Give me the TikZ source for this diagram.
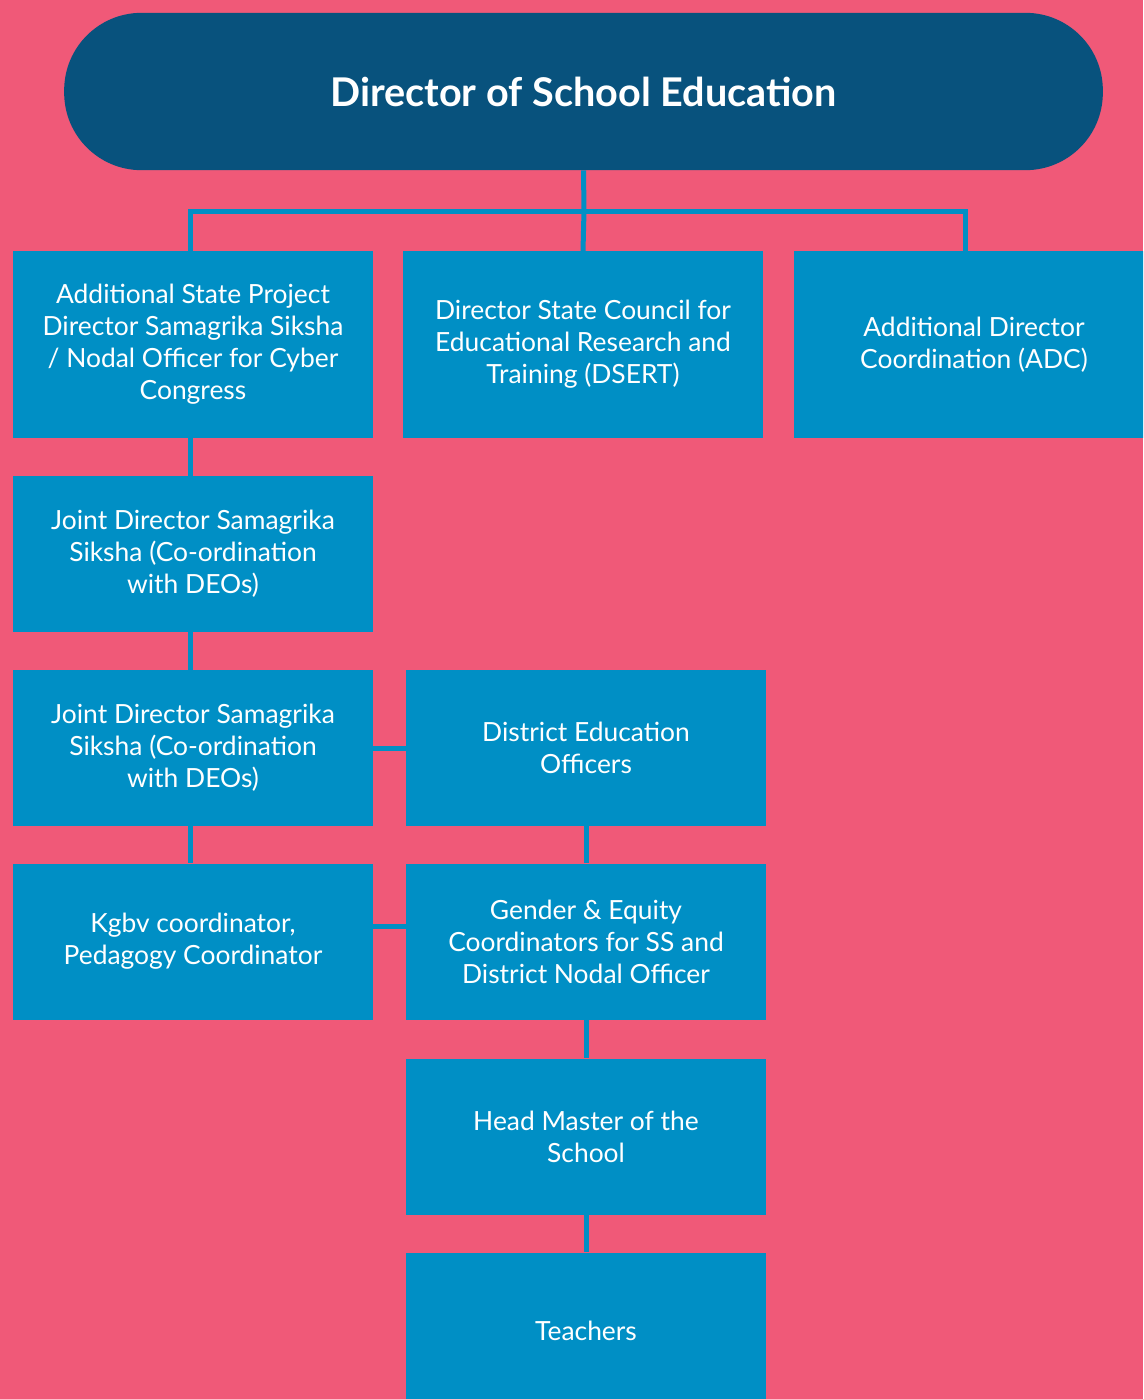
\documentclass[tikz,border=0pt]{standalone}
\usepackage{fontspec}
\setmainfont{Lato}
\definecolor{pinkbg}{RGB}{240,89,120}
\definecolor{boxblue}{RGB}{0,143,197}
\definecolor{darkblue}{RGB}{8,82,125}
\begin{document}
\begin{tikzpicture}[x=0.75pt,y=-0.75pt]
    \tikzset{
    head/.style={rectangle,rounded corners=58pt,fill=darkblue,text=white,minimum width=779pt,minimum height=118pt,font=\fontsize{29.7}{34}\selectfont\bfseries},
    post/.style={rectangle,fill=boxblue,text=white,minimum width=270pt,align=center,font=\fontsize{19.8}{24}\selectfont},
    tall/.style={post,minimum height=140pt},
    short/.style={post,minimum height=117pt},
    link/.style={-,draw=boxblue,line width=3.75pt},
    }
    \fill[pinkbg] (0,0) rectangle (1143,1399);
    \useasboundingbox (0,0) rectangle (1143,1399);
    \clip (0,0) rectangle (1143,1399);
    \node[head] (dir) at (583.5,91.5) {Director of School Education};
    \coordinate (bus) at (584,211);
    % first row
    \node[tall] (asp) at (193,344.5) {Additional State Project\\Director Samagrika Siksha\\/ Nodal Officer for Cyber\\Congress};
    \node[tall] (dsert) at (583,344.5) {Director State Council for\\Educational Research and\\Training (DSERT)};
    \node[tall] (adc) at (974,344.5) {Additional Director\\Coordination (ADC)};
    % left column
    \node[short] (jd1) at (193,554) {Joint Director Samagrika\\Siksha (Co-ordination\\with DEOs)};
    \node[short] (jd2) at (193,748) {Joint Director Samagrika\\Siksha (Co-ordination\\with DEOs)};
    \node[short] (kgbv) at (193,941.5) {Kgbv coordinator,\\Pedagogy Coordinator};
    % right column
    \node[short] (deo) at (586,748) {District Education\\Officers};
    \node[short] (gen) at (586,941.5) {Gender \& Equity\\Coordinators for SS and\\District Nodal Officer};
    \node[short] (hm) at (586,1136.5) {Head Master of the\\School};
    \node[short] (teach) at (586,1330.5) {Teachers};
    % connectors
    \draw[link] (dir.south) -- (bus);
    \draw[link] ([xshift=-2.25pt]asp.north) |- (bus) -| ([xshift=-6.75pt]adc.north);
    \draw[link] (bus) -- (dsert.north);
    \draw[link] ([xshift=-2.25pt]asp.south) -- ([xshift=-2.25pt]jd1.north);
    \draw[link] ([xshift=-2.25pt]jd1.south) -- ([xshift=-2.25pt]jd2.north);
    \draw[link] ([xshift=-2.25pt]jd2.south) -- ([xshift=-2.25pt]kgbv.north);
    \draw[link] (jd2.east) -- (deo.west);
    \draw[link] ([yshift=11.25pt]kgbv.east) -- ([yshift=11.25pt]gen.west);
    \draw[link] (deo.south) -- (gen.north);
    \draw[link] (gen.south) -- (hm.north);
    \draw[link] (hm.south) -- (teach.north);
\end{tikzpicture}
\end{document}
